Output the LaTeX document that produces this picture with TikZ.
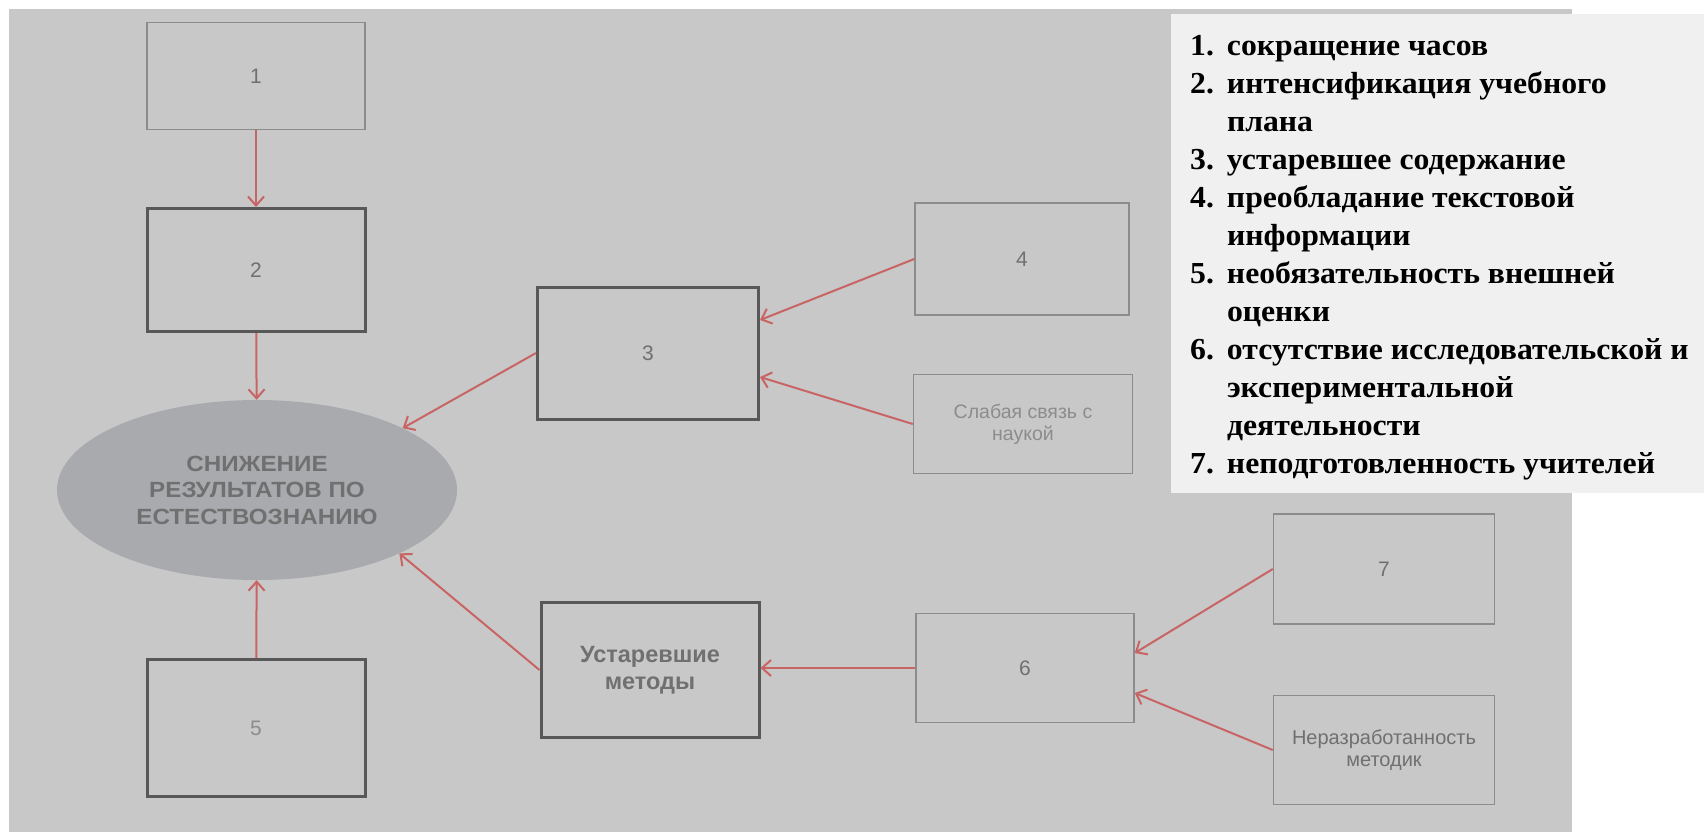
\documentclass[tikz,border=0pt]{standalone}
\usepackage{fontspec}
\setmainfont{Liberation Serif}
\newfontfamily\arialfont{Liberation Sans}
\usetikzlibrary{arrows.meta,shapes.geometric}

\definecolor{sfondo}{RGB}{200,200,200}
\definecolor{legendabg}{RGB}{240,240,240}
\definecolor{freccia}{RGB}{200,100,100}
\definecolor{bordoscuro}{RGB}{88,88,88}
\definecolor{bordochiaro}{RGB}{140,140,140}
\definecolor{testocausa}{RGB}{112,112,112}
\definecolor{ovale}{RGB}{168,170,174}

\begin{document}
\begin{tikzpicture}[x=1pt,y=-1pt,
		causa/.style={draw=bordochiaro,line width=1.5pt,inner sep=0pt,align=center,
			minimum width=218pt,minimum height=110pt,text=testocausa,
			font=\arialfont\fontsize{21}{24}\selectfont},
		causaforte/.style={causa,draw=bordoscuro,line width=3pt},
		legame/.style={draw=freccia,line width=2pt,-{Straight Barb[length=9pt,width=16pt,line width=2pt]}}]
		\useasboundingbox (0,0) rectangle (1704,836);
		\fill[white] (0,0) rectangle (1704,836);
		\fill[sfondo] (9,9) rectangle (1572,832);
		\fill[legendabg] (1171,14) rectangle (1704,493);

		\node[causa,minimum height=107pt] (uno) at (256,76) {1};
		\node[causaforte,minimum height=123pt] (due) at (256,270) {2};
		\node[ellipse,fill=ovale,inner sep=0pt,minimum width=400pt,minimum height=180pt,
			text=testocausa,align=center,font=\arialfont\bfseries\fontsize{22}{26.5}\selectfont]
			(calo) at (257,490) {\scalebox{1.1}[1]{СНИЖЕНИЕ}\\ \scalebox{1.1}[1]{РЕЗУЛЬТАТОВ ПО}\\ \scalebox{1.1}[1]{ЕСТЕСТВОЗНАНИЮ}};
		\node[causaforte,minimum width=221pt,minimum height=132pt] (tre) at (648,353) {3};
		\node[causa,minimum width=214pt,minimum height=112pt] (quattro) at (1022,259) {4};
		\node[causa,minimum width=219pt,minimum height=99pt,font=\arialfont\fontsize{19.5}{22}\selectfont,text=bordochiaro]
			(scienza) at (1023,424) {Слабая связь с\\наукой};
		\node[causaforte,minimum height=137pt,text=bordochiaro] (cinque) at (256,728) {5};
		\node[causaforte,minimum height=135pt,font=\arialfont\bfseries\fontsize{23.5}{27}\selectfont]
			(metodi) at (650,670) {Устаревшие\\методы};
		\node[causa,minimum height=109pt] (sei) at (1025,668) {6};
		\node[causa,minimum width=221pt,minimum height=110pt] (sette) at (1384,569) {7};
		\node[causa,minimum width=221pt,minimum height=109pt,font=\arialfont\fontsize{20}{22}\selectfont]
			(metodiche) at (1384,750) {Неразработанность\\методик};

		\node[anchor=base west,inner sep=0pt,font=\bfseries\fontsize{30.5}{38}\selectfont]
			(legenda) at (1190,55) {\scalebox{1.04}[1]{\begin{tabular}[t]{@{}l@{\hspace{12.5pt}}l@{}}
				1. & сокращение часов\\
				2. & интенсификация учебного\\
				   & плана\\
				3. & устаревшее содержание\\
				4. & преобладание текстовой\\
				   & информации\\
				5. & необязательность внешней\\
				   & оценки\\
				6. & отсутствие исследовательской и\\
				   & экспериментальной\\
				   & деятельности\\
				7. & неподготовленность учителей
			\end{tabular}}};

		%%% СТРЕЛКИ
		\draw[legame] (uno) -- (due);
		\draw[legame] (due) -- (calo);
		\draw[legame] (cinque) -- (calo);
		\draw[legame] (tre.west) -- (calo.23);
		\draw[legame] (metodi.west) -- (calo.-24);
		\draw[legame] (quattro.west) -- ([yshift=33pt]tre.east);
		\draw[legame] (scienza.west) -- ([yshift=-24pt]tre.east);
		\draw[legame] (sei.west) -- (sei.west -| metodi.east);
		\draw[legame] (sette.west) -- ([yshift=15pt]sei.east);
		\draw[legame] (metodiche.west) -- ([yshift=-25pt]sei.east);
	\end{tikzpicture}
\end{document}
